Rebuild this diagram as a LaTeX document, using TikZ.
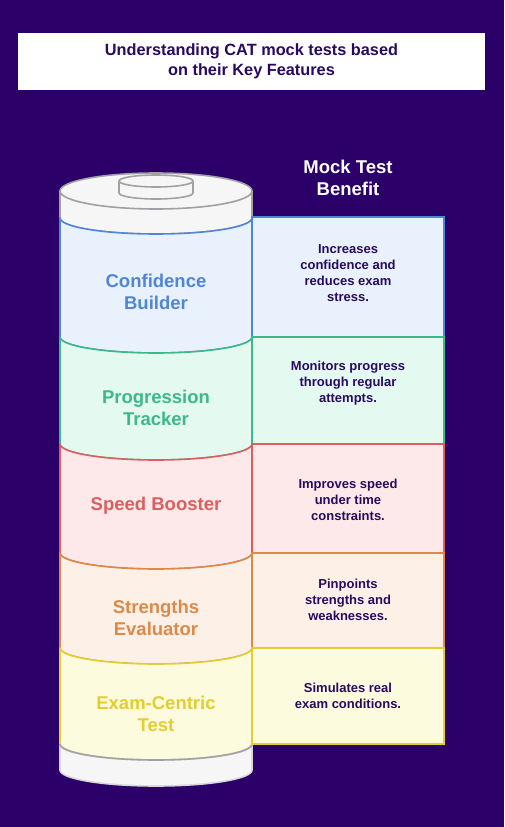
\documentclass[tikz,border=0pt]{standalone}
\usepackage{fontspec}
\setmainfont{Liberation Sans}
\usepackage{xcolor}
\usetikzlibrary{positioning}
\definecolor{cBg}{RGB}{43,0,104}
\definecolor{cInk}{RGB}{40,10,96}
\definecolor{cConf}{RGB}{80,134,215}
\definecolor{cProg}{RGB}{61,184,137}
\definecolor{cSpeed}{RGB}{218,96,95}
\definecolor{cStr}{RGB}{219,138,74}
\definecolor{cExam}{RGB}{228,205,46}
\definecolor{cConfFill}{RGB}{233,241,252}
\definecolor{cProgFill}{RGB}{228,250,240}
\definecolor{cSpeedFill}{RGB}{253,233,233}
\definecolor{cStrFill}{RGB}{253,241,231}
\definecolor{cExamFill}{RGB}{253,251,222}
\definecolor{cRim}{RGB}{160,160,165}
\definecolor{cTop}{RGB}{246,246,247}

\begin{document}
\begin{tikzpicture}[x=1pt,y=-1pt,
  seg/.style={line width=1.6pt,line join=round},
  box/.style={line width=1.6pt},
  lbl/.style={font=\bfseries\fontsize{18.5}{22}\selectfont,align=center},
  note/.style={font=\bfseries\fontsize{13}{16}\selectfont,text=cInk,align=center}]
  \fill[cBg] (0,0) rectangle (504,827);
  \useasboundingbox (0,0) rectangle (504,827);
  % title
  \node[fill=white,minimum width=467pt,minimum height=57pt,text=cInk,align=center,
    font=\bfseries\fontsize{16.3}{19.5}\selectfont] (title) at (251.5,61.5)
    {Understanding CAT mock tests based\\on their Key Features};
  \node[text=white,align=center,font=\bfseries\fontsize{18.5}{22}\selectfont] (head) at (348,178) {Mock Test\\Benefit};
  % cylinder top and knob
  \filldraw[seg,draw=cRim,fill=cTop] (60,191) -- (60,218) arc[start angle=180,end angle=0,x radius=96,y radius=16] -- (252,191);
  \filldraw[seg,draw=cRim,fill=cTop] (156,191) ellipse[x radius=96,y radius=18];
  \filldraw[seg,draw=cRim,fill=cTop] (119,181) -- (119,193) arc[start angle=180,end angle=0,x radius=37,y radius=6] -- (193,181);
  \filldraw[seg,draw=cRim,fill=cTop] (156,181) ellipse[x radius=37,y radius=6];
  % bands of the cylinder
  \foreach \ya/\yb/\col/\fil in {218/337/cConf/cConfFill,337/444/cProg/cProgFill,444/553/cSpeed/cSpeedFill,553/648/cStr/cStrFill,648/744/cExam/cExamFill}
    \filldraw[seg,draw=\col,fill=\fil] (60,\ya) arc[start angle=180,end angle=0,x radius=96,y radius=16]
      -- (252,\yb) arc[start angle=0,end angle=180,x radius=96,y radius=16] -- cycle;
  \filldraw[seg,draw=cRim!40,fill=cTop] (60,744) arc[start angle=180,end angle=0,x radius=96,y radius=16]
    -- (252,770) arc[start angle=0,end angle=180,x radius=96,y radius=16] -- cycle;
  \draw[seg,draw=cRim] (60,744) arc[start angle=180,end angle=0,x radius=96,y radius=16];
  % benefit boxes
  \foreach \ya/\yb/\col/\fil in {217/337/cConf/cConfFill,337/444/cProg/cProgFill,444/553/cSpeed/cSpeedFill,553/648/cStr/cStrFill,648/744/cExam/cExamFill}
    \filldraw[box,draw=\col,fill=\fil] (252,\ya) rectangle (444,\yb);
  % labels
  \node[lbl,text=cConf] (conf) at (156,291.5) {Confidence\\Builder};
  \node[lbl,text=cProg] (prog) at (156,407.5) {Progression\\Tracker};
  \node[lbl,text=cSpeed] (speed) at (156,506) {Speed Booster};
  \node[lbl,text=cStr] (str) at (156,617.5) {Strengths\\Evaluator};
  \node[lbl,text=cExam] (exam) at (156,713.5) {Exam-Centric\\Test};
  \node[note] (confnote) at (348,273) {Increases\\confidence and\\reduces exam\\stress.};
  \node[note] (prognote) at (348,383) {Monitors progress\\through regular\\attempts.};
  \node[note] (speednote) at (348,500) {Improves speed\\under time\\constraints.};
  \node[note] (strnote) at (348,600) {Pinpoints\\strengths and\\weaknesses.};
  \node[note] (examnote) at (348,696) {Simulates real\\exam conditions.};
\end{tikzpicture}
\end{document}
